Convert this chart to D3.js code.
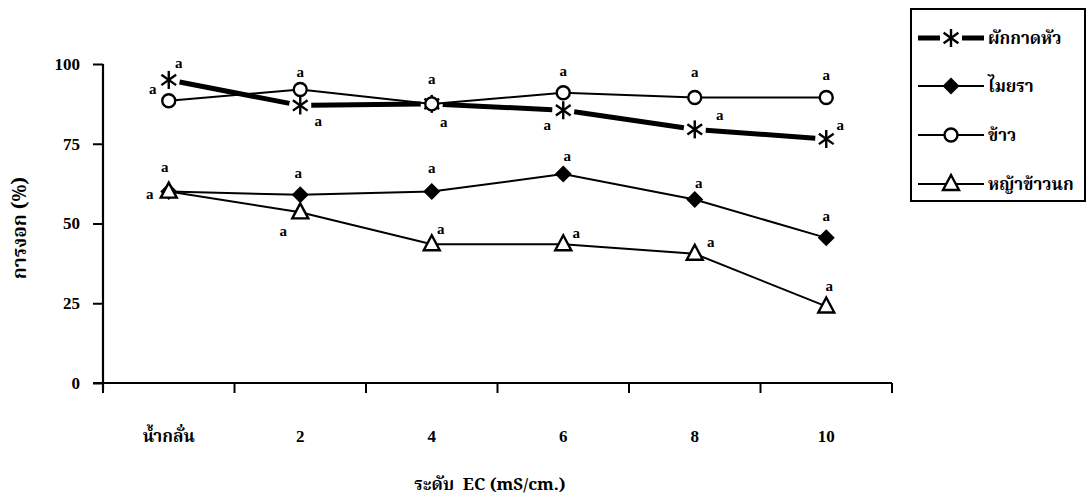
<!DOCTYPE html>
<html>
<head>
<meta charset="utf-8">
<script src="https://cdn.jsdelivr.net/npm/d3@7"></script>
<style>
  html, body { margin: 0; padding: 0; background: #fff; }
  svg { display: block; }
</style>
</head>
<body>
<svg id="chart" width="1087" height="500"></svg>
<script>
// ---------------- data ----------------
const categories = ["น้ำกลั่น", "2", "4", "6", "8", "10"];
const seriesNames = ["ผักกาดหัว", "ไมยรา", "ข้าว", "หญ้าข้าวนก"];
const radishValues  = [95, 87, 87.5, 85.5, 79.5, 76.5];   // ผักกาดหัว
const mimosaValues  = [60, 59, 60, 65.5, 57.5, 45.5];     // ไมยรา
const riceValues    = [88.5, 92, 87.5, 91, 89.5, 89.5];   // ข้าว
const grassValues   = [60, 53.5, 43.5, 43.5, 40.5, 24];   // หญ้าข้าวนก
const radishLetters = ["a", "a", "a", "a", "a", "a"];
const mimosaLetters = ["a", "a", "a", "a", "a", "a"];
const riceLetters   = ["a", "a", "a", "a", "a", "a"];
const grassLetters  = ["a", "a", "a", "a", "a", "a"];
const yTicks = [0, 25, 50, 75, 100];
const yTitle = "การงอก (%)";
const xTitle = "ระดับ  EC (mS/cm.)";

// ---------------- layout / style ----------------
const NUM_FONT = '"Liberation Serif", "Times New Roman", serif';
const THAI_FONT = '"Noto Serif Thai", "Noto Sans Thai", "Liberation Serif", serif';
const svg = d3.select("#chart");
const X0 = 103, X1 = 892;
const x = d3.scaleBand().domain(categories).range([X0, X1]).paddingInner(0).paddingOuter(0);
const y = d3.scaleLinear().domain([0, 100]).range([383, 64]);
const cx = c => x(c) + x.bandwidth() / 2;

// label offsets (dx, dy) per series point
const labelOffsets = {
  radish: [[10, -17], [18, 16], [12, 18], [-16, 15], [25, -14], [14, -14]],
  rice:   [[-16, -12], [0, -18], [0, -25], [0, -22], [0, -25], [0, -22]],
  mimosa: [[-4, -25], [-2, -22], [0, -24], [4, -18], [4, -17], [0, -22]],
  grass:  [[-19, 2], [-17, 19], [9, -15], [13, -11], [16, -12], [3, -20]]
};

const series = [
  { key: "radish", name: seriesNames[0], values: radishValues, letters: radishLetters, marker: "star", width: 5, gap: 11 },
  { key: "mimosa", name: seriesNames[1], values: mimosaValues, letters: mimosaLetters, marker: "diamond", width: 2, gap: 0 },
  { key: "rice",   name: seriesNames[2], values: riceValues,   letters: riceLetters,   marker: "circle", width: 2, gap: 0 },
  { key: "grass",  name: seriesNames[3], values: grassValues,  letters: grassLetters,  marker: "triangle", width: 2, gap: 0 }
];

function drawMarker(g, type, px, py) {
  if (type === "star") {
    const r = 9;
    [90, 35, 145].forEach(a => {
      const t = a * Math.PI / 180;
      g.append("line")
        .attr("x1", px - r * Math.cos(t)).attr("y1", py - r * Math.sin(t))
        .attr("x2", px + r * Math.cos(t)).attr("y2", py + r * Math.sin(t))
        .attr("stroke", "#000").attr("stroke-width", 2.4);
    });
  } else if (type === "diamond") {
    g.append("path")
      .attr("d", `M${px},${py - 8.5}L${px + 8.5},${py}L${px},${py + 8.5}L${px - 8.5},${py}Z`)
      .attr("fill", "#000");
  } else if (type === "circle") {
    g.append("circle").attr("cx", px).attr("cy", py).attr("r", 6.5)
      .attr("fill", "#fff").attr("stroke", "#000").attr("stroke-width", 2.4);
  } else if (type === "triangle") {
    g.append("path")
      .attr("d", `M${px},${py - 9}L${px + 8},${py + 6}L${px - 8},${py + 6}Z`)
      .attr("fill", "#fff").attr("stroke", "#000").attr("stroke-width", 2.4)
      .attr("stroke-linejoin", "miter");
  }
}

// ---------------- axes ----------------
const axisG = svg.append("g");
axisG.append("line").attr("x1", X0).attr("x2", X0).attr("y1", y(100)).attr("y2", y(0) + 7)
  .attr("stroke", "#000").attr("stroke-width", 2.2);
axisG.append("line").attr("x1", X0 - 10).attr("x2", X1).attr("y1", y(0)).attr("y2", y(0))
  .attr("stroke", "#000").attr("stroke-width", 2.2);

const yAxis = d3.axisLeft(y).tickValues(yTicks).tickSize(10).tickPadding(13).tickFormat(d3.format("d"));
const gy = svg.append("g").attr("transform", `translate(${X0},0)`).call(yAxis);
gy.select(".domain").remove();
gy.selectAll(".tick line").attr("stroke", "#000").attr("stroke-width", 2);
gy.selectAll(".tick text").style("font-family", NUM_FONT).style("font-weight", "bold")
  .style("font-size", "17px").attr("fill", "#000");

const boundaries = categories.map(c => x(c)).concat([X1]);
svg.append("g").selectAll("line").data(boundaries).join("line")
  .attr("x1", d => d).attr("x2", d => d).attr("y1", y(0)).attr("y2", y(0) + 10)
  .attr("stroke", "#000").attr("stroke-width", 2);

const xAxis = d3.axisBottom(x).tickSize(0).tickPadding(0);
const gx = svg.append("g").attr("transform", `translate(0,${y(0) + 53})`).call(xAxis);
gx.select(".domain").remove();
gx.selectAll(".tick text")
  .style("font-family", (d, i) => i === 0 ? THAI_FONT : NUM_FONT)
  .style("font-weight", "bold")
  .style("font-size", "17px").attr("fill", "#000")
  .attr("dy", "0.35em");

// titles
svg.append("text").style("font-family", THAI_FONT).style("font-weight", "bold").style("font-size", "17px")
  .attr("text-anchor", "middle").attr("x", 490).attr("y", 490).attr("xml:space", "preserve").text(xTitle);
svg.append("text").style("font-family", THAI_FONT).style("font-weight", "bold").style("font-size", "19px")
  .attr("text-anchor", "middle").attr("transform", "translate(26,228) rotate(-90)").text(yTitle);

// ---------------- series ----------------
const plot = svg.append("g");
const lineGen = d3.line().x(d => d[0]).y(d => d[1]);

series.forEach(s => {
  const pts = s.values.map((v, i) => [cx(categories[i]), y(v)]);
  if (s.gap > 0) {
    for (let i = 0; i < pts.length - 1; i++) {
      const [ax, ay] = pts[i], [bx, by] = pts[i + 1];
      const L = Math.hypot(bx - ax, by - ay);
      const ux = (bx - ax) / L, uy = (by - ay) / L;
      plot.append("path")
        .attr("d", lineGen([[ax + ux * s.gap, ay + uy * s.gap], [bx - ux * s.gap, by - uy * s.gap]]))
        .attr("stroke", "#000").attr("stroke-width", s.width).attr("fill", "none");
    }
  } else {
    plot.append("path").attr("d", lineGen(pts))
      .attr("stroke", "#000").attr("stroke-width", s.width).attr("fill", "none");
  }
});
series.forEach(s => {
  s.values.forEach((v, i) => drawMarker(plot, s.marker, cx(categories[i]), y(v)));
});
series.forEach(s => {
  s.values.forEach((v, i) => {
    const off = labelOffsets[s.key][i];
    plot.append("text").style("font-family", NUM_FONT).style("font-weight", "bold").style("font-size", "15px")
      .attr("text-anchor", "middle").attr("dominant-baseline", "central")
      .attr("x", cx(categories[i]) + off[0]).attr("y", y(v) + off[1])
      .text(s.letters[i]);
  });
});

// ---------------- legend ----------------
const lg = svg.append("g");
const LX = 911, LY = 9, LW = 174, LH = 192;
lg.append("rect").attr("x", LX).attr("y", LY).attr("width", LW).attr("height", LH)
  .attr("fill", "#fff").attr("stroke", "#000").attr("stroke-width", 2);
const itemY = [38, 86, 135, 184];
series.forEach((s, i) => {
  const yy = itemY[i];
  const mx = LX + 40;
  if (s.gap > 0) {
    lg.append("line").attr("x1", LX + 7).attr("x2", mx - 11).attr("y1", yy).attr("y2", yy)
      .attr("stroke", "#000").attr("stroke-width", s.width);
    lg.append("line").attr("x1", mx + 11).attr("x2", LX + 73).attr("y1", yy).attr("y2", yy)
      .attr("stroke", "#000").attr("stroke-width", s.width);
  } else {
    lg.append("line").attr("x1", LX + 7).attr("x2", LX + 73).attr("y1", yy).attr("y2", yy)
      .attr("stroke", "#000").attr("stroke-width", s.width);
  }
  drawMarker(lg, s.marker, mx, yy);
  const t = lg.append("text").style("font-family", THAI_FONT).style("font-weight", "bold").style("font-size", "17px")
    .attr("x", LX + 77).attr("y", yy).attr("dy", "0.35em").text(s.name);
  const w = t.node().getComputedTextLength();
  const maxW = LW - 77 - 6;
  if (w > maxW) t.attr("textLength", maxW).attr("lengthAdjust", "spacingAndGlyphs");
});
</script>
</body>
</html>
